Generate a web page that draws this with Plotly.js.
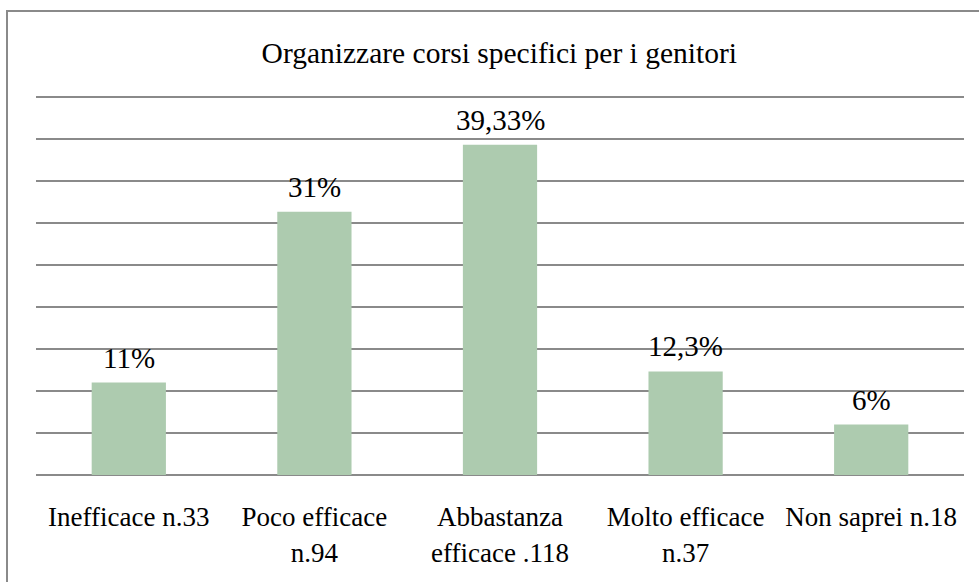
<!DOCTYPE html>
<html>
<head>
<meta charset="utf-8">
<script src="https://cdn.plot.ly/plotly-3.0.1.min.js"></script>
<style>
  html, body { margin: 0; padding: 0; background: #fff; }
  #wrap { position: relative; width: 979px; height: 582px; }
  #chart { position: absolute; left: 0; top: 0; width: 979px; height: 582px; }
  #frame { position: absolute; left: 6px; top: 10px; width: 990px; height: 600px;
           border-left: 2px solid #8a8a8a; border-top: 2px solid #8a8a8a; pointer-events: none; }
</style>
</head>
<body>
<div id="wrap">
  <div id="chart"></div>
  <div id="frame"></div>
</div>
<script>
const categories = ["Inefficace n.33", "Poco efficace<br>n.94", "Abbastanza<br>efficace .118", "Molto efficace<br>n.37", "Non saprei n.18"];
const values = [11, 31.33, 39.33, 12.33, 6];
const valueLabels = ["11%", "31%", "39,33%", "12,3%", "6%"];
const yTicks = [0, 5, 10, 15, 20, 25, 30, 35, 40, 45];

const FONT = "Liberation Serif";

const trace = {
  type: "bar",
  x: categories,
  y: values,
  marker: { color: "#adcbaf" },
  hoverinfo: "none"
};

const annotations = categories.map((c, i) => ({
  x: c,
  y: values[i],
  xref: "x",
  yref: "y",
  text: valueLabels[i],
  showarrow: false,
  xanchor: "center",
  yanchor: "bottom",
  yshift: 7,
  font: { family: FONT, size: 29, color: "#000" }
}));

const layout = {
  width: 979,
  height: 582,
  margin: { l: 36, r: 15, t: 92, b: 107 },
  paper_bgcolor: "rgba(0,0,0,0)",
  plot_bgcolor: "rgba(0,0,0,0)",
  bargap: 0.6,
  showlegend: false,
  annotations: annotations,
  title: {
    text: "Organizzare corsi specifici per i genitori",
    font: { family: FONT, size: 29.5, color: "#000" },
    x: 0.51, xanchor: "center",
    y: 0.91, yanchor: "middle"
  },
  xaxis: {
    type: "category",
    tickfont: { family: FONT, size: 27, color: "#000" },
    ticks: "outside",
    ticklen: 18,
    tickcolor: "rgba(0,0,0,0)",
    showgrid: false,
    showline: false,
    zeroline: false,
    fixedrange: true
  },
  yaxis: {
    range: [0, 45.6],
    tickvals: yTicks,
    showticklabels: false,
    showgrid: true,
    gridcolor: "#8a8a8a",
    gridwidth: 2,
    zeroline: true,
    zerolinecolor: "#8a8a8a",
    zerolinewidth: 2,
    showline: false,
    fixedrange: true
  }
};

Plotly.newPlot("chart", [trace], layout, { displayModeBar: false, staticPlot: true });
</script>
</body>
</html>
